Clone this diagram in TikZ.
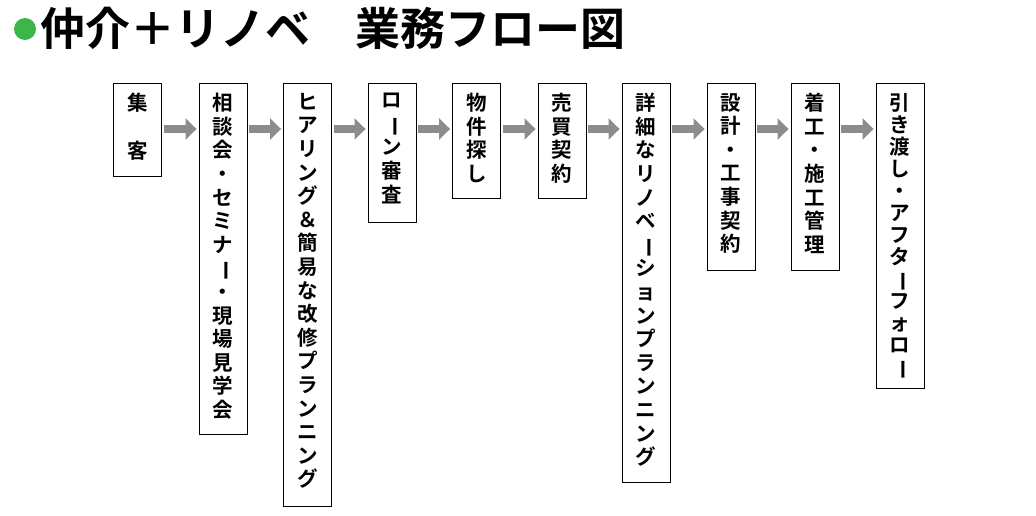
\documentclass[tikz,border=0pt]{standalone}
\usepackage{fontspec}
\usepackage{graphicx}
\setmainfont{Noto Sans CJK JP Bold}
\usetikzlibrary{arrows.meta,calc}
\definecolor{dotgreen}{HTML}{3CB54A}
\newcommand{\vb}{\rotatebox[origin=c]{-90}{ー}}
\tikzset{
 box/.style={draw=black,line width=0.9pt,minimum width=48pt,anchor=north,inner sep=0pt},
 vtext/.style={anchor=north,align=center,font=\fontsize{20.5pt}{23.6pt}\selectfont,inner sep=0pt},
 arr/.style={line width=8pt,draw=black!45,-{Triangle[length=11pt,width=21pt]},shorten <=2pt,shorten >=2pt}
}
\begin{document}
\begin{tikzpicture}[x=1pt,y=1pt]
\useasboundingbox (0,0) rectangle (1036,-516);
\fill[dotgreen] (25,-29) circle (11);
\node[anchor=west,inner sep=0pt,font=\fontsize{45pt}{46pt}\selectfont] (title) at (40,-28) {仲介＋リノベ　業務フロー図};
\node[box,minimum height=93pt] (b1) at (137.5,-83) {};
\node[box,minimum height=351pt] (b2) at (223,-83) {};
\node[box,minimum height=423pt] (b3) at (307.5,-83) {};
\node[box,minimum height=139pt] (b4) at (392,-83) {};
\node[box,minimum height=115pt] (b5) at (476.5,-83) {};
\node[box,minimum height=115pt] (b6) at (562,-83) {};
\node[box,minimum height=399pt] (b7) at (646,-83) {};
\node[box,minimum height=187pt] (b8) at (731,-83) {};
\node[box,minimum height=187pt] (b9) at (815,-83) {};
\node[box,minimum height=305pt] (b10) at (900,-83) {};
\node[vtext] (t1) at ([yshift=-10]b1.north) {集\\[24pt]客};
\node[vtext] (t2) at ([yshift=-10]b2.north) {相\\談\\会\\・\\セ\\ミ\\ナ\\\vb\\・\\現\\場\\見\\学\\会};
\node[vtext] (t3) at ([yshift=-10]b3.north) {ヒ\\ア\\リ\\ン\\グ\\＆\\簡\\易\\な\\改\\修\\プ\\ラ\\ン\\ニ\\ン\\グ};
\node[vtext] (t4) at ([yshift=-10]b4.north) {ロ\\\vb\\ン\\審\\査};
\node[vtext] (t5) at ([yshift=-10]b5.north) {物\\件\\探\\し};
\node[vtext] (t6) at ([yshift=-10]b6.north) {売\\買\\契\\約};
\node[vtext] (t7) at ([yshift=-10]b7.north) {詳\\細\\な\\リ\\ノ\\ベ\\\vb\\シ\\ョ\\ン\\プ\\ラ\\ン\\ニ\\ン\\グ};
\node[vtext] (t8) at ([yshift=-10]b8.north) {設\\計\\・\\工\\事\\契\\約};
\node[vtext] (t9) at ([yshift=-10]b9.north) {着\\工\\・\\施\\工\\管\\理};
\node[vtext,font=\fontsize{20.5pt}{22pt}\selectfont] (t10) at ([yshift=-10]b10.north) {引\\き\\渡\\し\\・\\ア\\フ\\タ\\\vb\\フ\\ォ\\ロ\\\vb};
\foreach \a/\b in {b1/b2,b2/b3,b3/b4,b4/b5,b5/b6,b6/b7,b7/b8,b8/b9,b9/b10}
  \draw[arr] ($(\a.north east)+(0,-46)$) -- ($(\b.north west)+(0,-46)$);
\end{tikzpicture}
\end{document}
